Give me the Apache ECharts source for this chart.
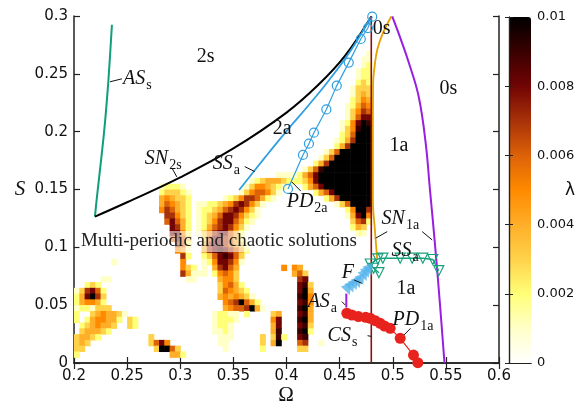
<!DOCTYPE html>
<html>
<head>
<meta charset="utf-8">
<script src="https://cdn.jsdelivr.net/npm/echarts@6/dist/echarts.min.js"></script>
<style>
html, body { margin: 0; padding: 0; background: #fff; }
#chart { width: 587px; height: 405px; }
</style>
</head>
<body>
<div id="chart"></div>
<script>
// Largest Lyapunov exponent λ over the (Ω, S) plane, with bifurcation curves.

// ---- heat map cells --------------------------------------------------------
const OMEGA_START = 0.2;
const CELL_W = 0.005;   // cell width in Ω
const CELL_S = 0.005;   // cell height in S
// Each run: [row (S index), first column (Ω index), level codes]
// level codes: '.' no value, '1'..'9' -> n * 0.001, '#' -> 0.01
const lambdaRuns = [
  [53, 55, '1'],
  [52, 54, '11'],
  [51, 54, '12'],
  [50, 53, '122'],
  [49, 53, '122'],
  [48, 53, '232'],
  [47, 52, '1333'],
  [46, 52, '1343'],
  [45, 52, '2354'],
  [44, 51, '12465'],
  [43, 51, '13576'],
  [42, 51, '13688'],
  [41, 50, '1258#9'],
  [40, 50, '1359##'],
  [39, 50, '236###'],
  [38, 49, '1247###'],
  [37, 49, '247####'],
  [36, 47, '136######'],
  [35, 46, '136#######'],
  [34, 45, '247########'],
  [33, 43, '1369#########'],
  [32, 38, '11112468##########'],
  [31, 33, '1234443222358##########'],
  [30, 16, '12221'], [30, 32, '13554321'], [30, 43, '2468#########'],
  [29, 16, '233321'], [29, 31, '13566531'], [29, 45, '2468#######'],
  [28, 16, '454332'], [28, 28, '1235776421'], [28, 47, '247######'],
  [27, 16, '465432'], [27, 23, '1122345787531'], [27, 49, '136####'],
  [26, 16, '576432'], [26, 23, '122346787531'], [26, 51, '25##7'],
  [25, 17, '77532'], [25, 23, '123468875321'], [25, 51, '148#5'],
  [24, 17, '68642'], [24, 23, '12357886421'], [24, 52, '3672'],
  [23, 18, '8742'], [23, 23, '1246787531'], [23, 52, '243'],
  [22, 18, '8852'], [22, 23, '135788642'], [22, 53, '21'],
  [21, 18, '6863'], [21, 24, '36887642'],
  [20, 19, '762'], [20, 24, '478876431'],
  [19, 19, '541'], [19, 24, '478987642'],
  [18, 20, '72'], [18, 24, '23689863'],
  [17, 7, '1'], [17, 20, '5'], [17, 24, '12588751'],
  [16, 20, '532'], [16, 24, '1.47864'], [16, 39, '5'], [16, 41, '54'],
  [15, 20, '74111'], [15, 26, '25653'], [15, 41, '463'],
  [14, 5, '11'], [14, 21, '11'], [14, 27, '4553'], [14, 42, '78'],
  [13, 2, '232'], [13, 27, '35642'], [13, 42, '893'],
  [12, 0, '137862'], [12, 27, '365432'], [12, 42, '8#4'],
  [11, 0, '248#73'], [11, 27, '4545431'], [11, 42, '9#5'],
  [10, 0, '245542'], [10, 28, '567#642'], [10, 42, '895'],
  [9, 0, '1221333'], [9, 28, '45667#41'], [9, 42, '9#4'],
  [8, 0, '2..3454431'], [8, 26, '12211'], [8, 32, '2'], [8, 37, '34'], [8, 42, '894'],
  [7, 0, '2.2455442.32'], [7, 26, '12221'], [7, 37, '58'], [7, 42, '9#4'],
  [6, 1, '2345443..32'], [6, 26, '1221'], [6, 37, '48'], [6, 42, '893'],
  [5, 1, '344432'], [5, 26, '1121'], [5, 37, '49'], [5, 42, '9#2'],
  [4, 0, '34432'], [4, 14, '3'], [4, 27, '111'], [4, 35, '3'], [4, 37, '392'], [4, 42, '89'],
  [3, 0, '343'], [3, 14, '3685'], [3, 27, '11'], [3, 35, '3'], [3, 37, '4#'], [3, 42, '67'], [3, 46, '1'],
  [2, 0, '33'], [2, 15, '3##63'], [2, 28, '1'], [2, 35, '2'], [2, 42, '33'],
  [1, 0, '2'], [1, 18, '442']
];

// ---- colour scale ----------------------------------------------------------
const LAMBDA_MIN = 0, LAMBDA_MAX = 0.01;
const lambdaColors = ['#ffffff', '#ffffc8', '#ffff78', '#ffd24a', '#ffae28', '#ff8a00',
                      '#dc6208', '#a83208', '#720404', '#3a0000', '#000000'];
const lambdaTicks = [0, 0.002, 0.004, 0.006, 0.008, 0.01];

// ---- bifurcation curves (Ω, S) ---------------------------------------------
const curveASs = [[0.2197, 0.1266], [0.2213, 0.141], [0.2282, 0.1987], [0.2323, 0.2433], [0.2357, 0.2924]];
const curveSN2s = [[0.2197, 0.1266], [0.25, 0.139], [0.30, 0.1605], [0.35, 0.1855], [0.40, 0.2165],
                   [0.43, 0.2405], [0.455, 0.2655], [0.4798, 0.2996]];
const curveSSa = [[0.3554, 0.1496], [0.38, 0.178], [0.40, 0.2005], [0.42, 0.222], [0.44, 0.2445],
                  [0.46, 0.2695], [0.4798, 0.2996]];
const curvePD2a = [[0.4014, 0.1505], [0.4155, 0.1799], [0.4211, 0.1896], [0.4258, 0.1991], [0.4375, 0.2192],
                   [0.4473, 0.2398], [0.4586, 0.2597], [0.4699, 0.2801], [0.4766, 0.2896], [0.4807, 0.2994]];
const curveCSs = [[0.4798, 0], [0.4798, 0.3]];
const curveSN1aLeft = [[0.4986, 0.2996], [0.4907, 0.2852], [0.4854, 0.2708], [0.4829, 0.2563], [0.4815, 0.2419],
                       [0.4813, 0.2], [0.4813, 0.141], [0.4832, 0.115], [0.4854, 0.0891]];
const curveSN1aRight = [[0.4995, 0.2996], [0.5035, 0.29], [0.5075, 0.28], [0.515, 0.26], [0.5245, 0.23],
                        [0.531, 0.19], [0.535, 0.15], [0.540, 0.10], [0.5445, 0.05], [0.5487, 0]];
const curveASa = [[0.4563, 0.048], [0.4563, 0.060]];
const curveSSaLow = [[0.4870, 0.0781], [0.4820, 0.0819], [0.4788, 0.0856], [0.4860, 0.0900], [0.4907, 0.0906],
                     [0.5070, 0.0906], [0.5183, 0.0906], [0.5283, 0.0906], [0.5377, 0.0895], [0.5433, 0.0798]];
const pointsF = [[0.4578, 0.0632], [0.4610, 0.0655], [0.4641, 0.0675], [0.4672, 0.0694], [0.4704, 0.0718],
                 [0.4735, 0.0753], [0.4757, 0.0781], [0.4782, 0.0804]];
const curvePD1a = [[0.4568, 0.0430], [0.4615, 0.0415], [0.4677, 0.0401], [0.4746, 0.0395], [0.4788, 0.0387],
                   [0.4835, 0.0366], [0.4882, 0.0343], [0.4922, 0.0320], [0.4976, 0.0300], [0.5070, 0.0213],
                   [0.5195, 0.0069], [0.5236, 0.0003]];

// ---- annotations (left edge, vertical centre) ------------------------------
const regionLabels = [
  [0.2461, 0.2448, '{it|AS}{sub|s}'],
  [0.3156, 0.2638, '{rm|2s}'],
  [0.2667, 0.1756, '{it|SN}{sub|2s}'],
  [0.3306, 0.1713, '{it|SS}{sub|a}'],
  [0.3870, 0.2016, '{rm|2a}'],
  [0.4002, 0.1384, '{it|PD}{sub|2a}'],
  [0.4812, 0.2880, '{rm|0s}'],
  [0.5440, 0.2362, '{rm|0s}'],
  [0.4970, 0.1869, '{rm|1a}'],
  [0.4895, 0.1237, '{it|SN}{sub|1a}'],
  [0.4989, 0.0960, '{it|SS}{sub|a}'],
  [0.4519, 0.0770, '{it|F}'],
  [0.5036, 0.0631, '{rm|1a}'],
  [0.4199, 0.0519, '{it|AS}{sub|a}'],
  [0.4998, 0.0363, '{it|PD}{sub|1a}'],
  [0.4387, 0.0225, '{it|CS}{sub|s}']
];
const leaderLines = [
  [[0.2338, 0.2431], [0.2451, 0.2457]],
  [[0.2921, 0.1687], [0.2968, 0.1609]],
  [[0.3607, 0.1698], [0.3701, 0.1655]],
  [[0.4049, 0.1566], [0.4133, 0.1488]],
  [[0.4839, 0.1079], [0.4948, 0.1136]],
  [[0.5277, 0.1136], [0.5371, 0.1064]],
  [[0.4636, 0.0718], [0.4709, 0.0689]],
  [[0.4521, 0.0531], [0.4552, 0.0502]],
  [[0.4763, 0.0236], [0.4798, 0.0230]],
  [[0.5105, 0.0242], [0.5168, 0.0300]]
];
const chaosText = 'Multi-periodic and chaotic solutions';

// ---- decode heat map runs into cells ----------------------------------------
const heatCells = [];
lambdaRuns.forEach(([row, col, codes]) => {
  for (let k = 0; k < codes.length; k++) {
    const c = codes[k];
    if (c === '.') continue;
    const lam = c === '#' ? 0.01 : Number(c) * 0.001;
    heatCells.push([OMEGA_START + (col + k) * CELL_W, row * CELL_S, lam]);
  }
});

const AX = '#222';
const SERIF = '"Liberation Serif", "DejaVu Serif", serif';
const SANS = '"DejaVu Sans", sans-serif';
const RICH = {
  it: { fontFamily: SERIF, fontStyle: 'italic', fontSize: 20, lineHeight: 22, verticalAlign: 'top', fill: '#111' },
  sub: { fontFamily: SERIF, fontSize: 14, lineHeight: 14, padding: [9, 0, 0, 1], verticalAlign: 'top', fill: '#111' },
  rm: { fontFamily: SERIF, fontSize: 20, lineHeight: 22, verticalAlign: 'top', fill: '#111' }
};

const chart = echarts.init(document.getElementById('chart'), null, { renderer: 'canvas' });

const mainAxisCommon = {
  type: 'value',
  axisLine: { lineStyle: { color: AX, width: 1.5 } },
  axisTick: { inside: true, length: 6, lineStyle: { color: AX, width: 1.2 } },
  splitLine: { show: false }
};
const hiddenLabel = { show: false };

const baseGraphics = [
  { type: 'text', left: 79, top: 231, z: 40,
    style: { text: chaosText, font: '19px ' + SERIF, fill: '#222',
             backgroundColor: 'rgba(255,255,255,0.55)', padding: [1, 2] } },
  { type: 'text', x: 20, y: 189, z: 40,
    style: { text: 'S', font: 'italic 21px ' + SERIF, fill: '#111', align: 'center', verticalAlign: 'middle' } },
  { type: 'text', x: 286, y: 395, z: 40,
    style: { text: 'Ω', font: '21px ' + SERIF, fill: '#111', align: 'center', verticalAlign: 'middle' } },
  { type: 'text', x: 570, y: 191, z: 40,
    style: { text: 'λ', font: '17px ' + SANS, fill: '#111', align: 'center', verticalAlign: 'middle' } }
];

const option = {
  animation: false,
  backgroundColor: '#fff',
  grid: [
    { left: 74, right: 88, top: 16, bottom: 42, outerBoundsMode: 'none', containLabel: false },
    { left: 509, top: 17, width: 22, height: 346, outerBoundsMode: 'none', containLabel: false }
  ],
  xAxis: [
    Object.assign({}, mainAxisCommon, {
      gridIndex: 0, min: 0.2, max: 0.6, interval: 0.05, position: 'bottom',
      axisLabel: { color: '#111', fontFamily: SANS, fontSize: 15, margin: 6 }
    }),
    Object.assign({}, mainAxisCommon, {
      gridIndex: 0, min: 0.2, max: 0.6, interval: 0.05, position: 'top', axisLabel: hiddenLabel
    }),
    { gridIndex: 1, type: 'value', min: 0, max: 1, position: 'bottom', z: 6,
      axisLine: { lineStyle: { color: AX, width: 1.2 } }, axisTick: { show: false },
      axisLabel: hiddenLabel, splitLine: { show: false } },
    { gridIndex: 1, type: 'value', min: 0, max: 1, position: 'top', z: 6,
      axisLine: { lineStyle: { color: AX, width: 1.2 } }, axisTick: { show: false },
      axisLabel: hiddenLabel, splitLine: { show: false } }
  ],
  yAxis: [
    Object.assign({}, mainAxisCommon, {
      gridIndex: 0, min: 0, max: 0.3, interval: 0.05, position: 'left',
      axisLabel: { color: '#111', fontFamily: SANS, fontSize: 15, margin: 6 }
    }),
    Object.assign({}, mainAxisCommon, {
      gridIndex: 0, min: 0, max: 0.3, interval: 0.05, position: 'right', axisLabel: hiddenLabel
    }),
    { gridIndex: 1, type: 'value', min: LAMBDA_MIN, max: LAMBDA_MAX, interval: 0.002, position: 'right', z: 6,
      axisLine: { lineStyle: { color: AX, width: 1.2 } },
      axisTick: { inside: true, length: 4, lineStyle: { color: AX } },
      axisLabel: { color: '#111', fontFamily: SANS, fontSize: 13, margin: 6,
                   formatter: v => lambdaTicks.includes(+v.toFixed(3)) ? String(+v.toFixed(3)) : '' },
      splitLine: { show: false } },
    { gridIndex: 1, type: 'value', min: LAMBDA_MIN, max: LAMBDA_MAX, interval: 0.002, position: 'left', z: 6,
      axisLine: { lineStyle: { color: AX, width: 1.2 } },
      axisTick: { inside: true, length: 4, lineStyle: { color: AX } },
      axisLabel: hiddenLabel, splitLine: { show: false } }
  ],
  visualMap: {
    type: 'continuous', min: LAMBDA_MIN, max: LAMBDA_MAX, dimension: 2, seriesIndex: 0,
    inRange: { color: lambdaColors },
    left: 509, top: 17, itemWidth: 22, itemHeight: 346, padding: 0,
    calculable: false, text: null, hoverLink: false, z: 1
  },
  graphic: baseGraphics,
  series: [
    {
      type: 'custom', name: 'lambda', xAxisIndex: 0, yAxisIndex: 0, z: 1,
      data: heatCells, encode: { x: 0, y: 1 }, clip: true,
      renderItem: (params, api) => {
        const x0 = api.value(0), y0 = api.value(1);
        const a = api.coord([x0, y0 + CELL_S]);
        const b = api.coord([x0 + CELL_W, y0]);
        return { type: 'rect',
                 shape: { x: a[0], y: a[1], width: b[0] - a[0] + 0.6, height: b[1] - a[1] + 0.6 },
                 style: { fill: api.visual('color') } };
      }
    },
    { type: 'line', name: 'ASs', data: curveASs, smooth: 0.3, showSymbol: false, z: 3,
      lineStyle: { color: '#119e78', width: 2 } },
    { type: 'line', name: 'SN2s', data: curveSN2s, smooth: 0.4, showSymbol: false, z: 3,
      lineStyle: { color: '#000', width: 2 } },
    { type: 'line', name: 'SSa', data: curveSSa, smooth: 0.4, showSymbol: false, z: 3,
      lineStyle: { color: '#2f9fe0', width: 1.8 } },
    { type: 'line', name: 'PD2a', data: curvePD2a, symbol: 'circle', symbolSize: 9, z: 4,
      itemStyle: { color: 'rgba(255,255,255,0)', borderColor: '#2f9fe0', borderWidth: 1.2 },
      lineStyle: { color: '#2f9fe0', width: 1.2 } },
    { type: 'line', name: 'CSs', data: curveCSs, showSymbol: false, z: 3,
      lineStyle: { color: '#8c1010', width: 1.6 } },
    { type: 'line', name: 'SN1a-left', data: curveSN1aLeft, smooth: 0.4, showSymbol: false, z: 3,
      lineStyle: { color: '#e8a000', width: 1.8 } },
    { type: 'line', name: 'SN1a-right', data: curveSN1aRight, smooth: 0.4, showSymbol: false, z: 3,
      lineStyle: { color: '#9a1ee0', width: 2 } },
    { type: 'line', name: 'ASa', data: curveASa, showSymbol: false, z: 3,
      lineStyle: { color: '#9a1ee0', width: 2 } },
    { type: 'line', name: 'SSa-low', data: curveSSaLow, symbol: 'triangle', symbolRotate: 180, symbolSize: 10, z: 4,
      itemStyle: { color: 'rgba(255,255,255,0)', borderColor: '#16a07c', borderWidth: 1.2 },
      lineStyle: { color: '#16a07c', width: 1.4 } },
    { type: 'scatter', name: 'F', data: pointsF, symbol: 'triangle', symbolRotate: 200, symbolSize: 11, z: 4,
      itemStyle: { color: '#55b4ec' } },
    { type: 'line', name: 'PD1a', data: curvePD1a, symbol: 'circle', symbolSize: 11, z: 4,
      itemStyle: { color: '#e8221c' }, lineStyle: { color: '#e8221c', width: 1.2 } },
    { type: 'lines', name: 'leaders', coordinateSystem: 'cartesian2d', z: 5,
      data: leaderLines.map(c => ({ coords: c })),
      lineStyle: { color: '#111', width: 1, opacity: 1 } }
  ]
};

chart.setOption(option);

// Region and curve labels, anchored at their data positions.
const labelGraphics = regionLabels.map(([x, y, t]) => {
  const p = chart.convertToPixel({ gridIndex: 0 }, [x, y]);
  return { type: 'text', x: p[0], y: p[1] - 11, z: 60,
           style: { text: t, rich: RICH, align: 'left', verticalAlign: 'top', fill: '#111' } };
});
chart.setOption({ graphic: baseGraphics.concat(labelGraphics) });
</script>
</body>
</html>
